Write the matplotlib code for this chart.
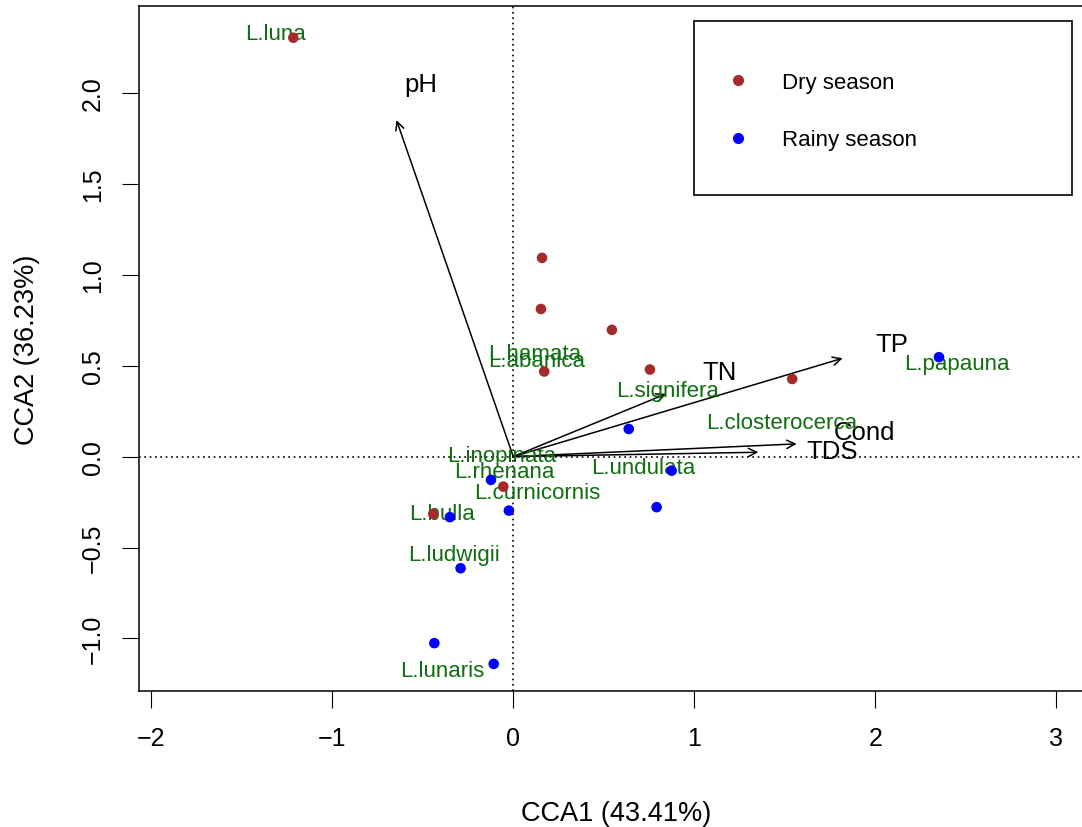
import matplotlib
matplotlib.use("Agg")
import matplotlib.pyplot as plt
from matplotlib.lines import Line2D
from matplotlib.patches import Rectangle

plt.rcParams['font.family'] = ['Liberation Sans', 'DejaVu Sans']

# site scores
dry_x = [-1.215, 0.159, 0.153, 0.545, 0.171, 0.755, 1.541, -0.055, -0.442]
dry_y = [2.304, 1.093, 0.812, 0.697, 0.468, 0.479, 0.427, -0.165, -0.315]
rainy_x = [2.352, 0.638, 0.875, 0.792, -0.123, -0.024, -0.350, -0.291, -0.436, -0.108]
rainy_y = [0.547, 0.152, -0.077, -0.278, -0.128, -0.297, -0.333, -0.614, -1.026, -1.140]

# species scores
species = ['L.luna', 'L.hamata', 'L.abanica', 'L.signifera', 'L.closterocerca',
           'L.papauna', 'L.undulata', 'L.inopinata', 'L.rhenana', 'L.curnicornis',
           'L.bulla', 'L.ludwigii', 'L.lunaris']
sp_x = [-1.312, 0.118, 0.129, 0.853, 1.481, 2.450, 0.719, -0.066, -0.048, 0.135,
        -0.393, -0.329, -0.393]
sp_y = [2.328, 0.565, 0.528, 0.363, 0.189, 0.514, -0.058, 0.006, -0.083, -0.196,
        -0.315, -0.541, -1.177]

# environmental vectors
env = ['pH', 'TN', 'TP', 'Cond', 'TDS']
env_x = [-0.645, 0.844, 1.820, 1.566, 1.354]
env_y = [1.851, 0.345, 0.541, 0.070, 0.024]
env_lx = [-0.512, 1.142, 2.094, 1.943, 1.762]
env_ly = [2.050, 0.466, 0.620, 0.134, 0.033]

fig = plt.figure(figsize=(10.82, 8.28), dpi=100)
ax = fig.add_axes([0.1289, 0.1643, 0.8766, 0.8267])
ax.set_xlim(-2.065, 3.175)
ax.set_ylim(-1.289, 2.476)

ax.axhline(0, color='black', lw=1.2, linestyle=(0, (1, 2.2)), zorder=1)
ax.axvline(0, color='black', lw=1.2, linestyle=(0, (1, 2.2)), zorder=1)

for name, x, y, lx, ly in zip(env, env_x, env_y, env_lx, env_ly):
    ax.annotate('', xy=(x, y), xytext=(0, 0),
                arrowprops=dict(arrowstyle='->,head_length=0.6,head_width=0.3',
                                lw=1.1, color='black', shrinkA=0, shrinkB=0,
                                mutation_scale=10), zorder=2)
    ax.text(lx, ly, name, fontsize=18.5, ha='center', va='center', color='black', zorder=2)

for name, x, y in zip(species, sp_x, sp_y):
    ax.text(x, y, name, fontsize=16, ha='center', va='center', color='#0f6e0f', zorder=2)

ax.scatter(dry_x, dry_y, s=58, color='#A52A2A', edgecolors='none', zorder=3)
ax.scatter(rainy_x, rainy_y, s=58, color='#0000FF', edgecolors='none', zorder=3)

# legend
ax.add_patch(Rectangle((0.5846, 0.7246), 0.3982, 0.2538, transform=ax.transAxes,
                       fill=False, lw=1.2, edgecolor='black', zorder=4))
handles = [Line2D([], [], marker='o', linestyle='none', color='#A52A2A', markersize=7),
           Line2D([], [], marker='o', linestyle='none', color='#0000FF', markersize=7)]
ax.legend(handles, ['Dry season', 'Rainy season'], loc='upper left',
          bbox_to_anchor=(0.6196, 0.9043), frameon=False, fontsize=16,
          borderpad=0, borderaxespad=0, handlelength=1.0, handletextpad=1.45,
          labelspacing=1.64)

ax.set_xticks([-2, -1, 0, 1, 2, 3])
ax.set_xticklabels(['\u22122', '\u22121', '0', '1', '2', '3'])
ax.set_yticks([-1.0, -0.5, 0.0, 0.5, 1.0, 1.5, 2.0])
ax.set_yticklabels(['\u22121.0', '\u22120.5', '0.0', '0.5', '1.0', '1.5', '2.0'],
                   rotation=90, va='center')
ax.tick_params(axis='both', length=12, width=0.8, labelsize=18)
ax.tick_params(axis='x', pad=13)
ax.tick_params(axis='y', pad=13)
for sp in ax.spines.values():
    sp.set_linewidth(1.1)

fig.text(616 / 1082, 1 - 814 / 828, 'CCA1 (43.41%)', fontsize=19.5, ha='center', va='center')
fig.text(27.5 / 1082, 1 - 350 / 828, 'CCA2 (36.23%)', fontsize=19.5, ha='center',
         va='center', rotation=90)

fig.savefig('out.png', dpi=100)
